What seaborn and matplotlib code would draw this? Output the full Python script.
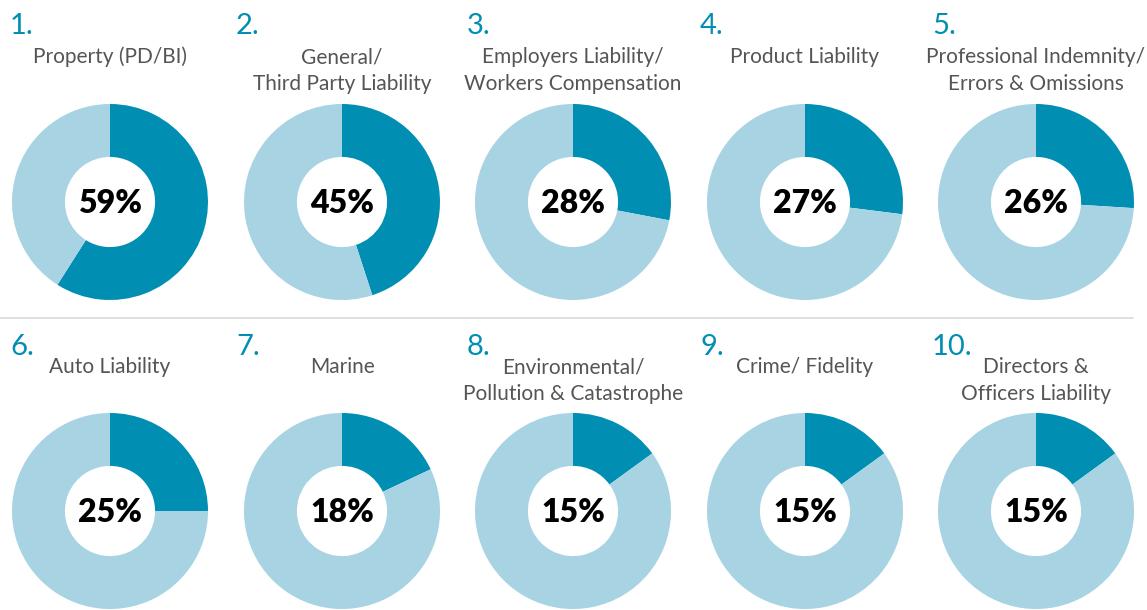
import matplotlib
matplotlib.use("Agg")
import matplotlib.pyplot as plt
import seaborn as sns

sns.set_theme(style="white")
plt.rcParams['font.family'] = ['Lato', 'DejaVu Sans']

ranks = ["1.", "2.", "3.", "4.", "5.", "6.", "7.", "8.", "9.", "10."]
titles = ["Property (PD/BI)", "General/\nThird Party Liability",
          "Employers Liability/\nWorkers Compensation", "Product Liability",
          "Professional Indemnity/\nErrors & Omissions", "Auto Liability", "Marine",
          "Environmental/\nPollution & Catastrophe", "Crime/ Fidelity",
          "Directors &\nOfficers Liability"]
values = [59, 45, 28, 27, 26, 25, 18, 15, 15, 15]

dark = "#008FB3"
light = "#A7D3E3"
palette = sns.color_palette([dark, light])

W, H = 1147, 610
fig = plt.figure(figsize=(W / 100, H / 100), dpi=100)
fig.patch.set_facecolor("white")

col_cx = [110, 342, 573, 805, 1036]
row_cy = [202, 511]
num_x = [10, 236, 467, 700, 932]
num_y = [26, 347]
title_y = [57, 367]
R = 98

for i, (rk, t, v) in enumerate(zip(ranks, titles, values)):
    r, c = divmod(i, 5)
    cx, cy = col_cx[c], row_cy[r]
    ax = fig.add_axes([(cx - R) / W, (H - cy - R) / H, 2 * R / W, 2 * R / H])
    ax.pie([v, 100 - v], colors=palette, startangle=90, counterclock=False,
           radius=1.0, wedgeprops=dict(width=0.54, edgecolor="none"))
    ax.set_xlim(-1, 1)
    ax.set_ylim(-1, 1)
    ax.set_aspect("equal")
    ax.axis("off")
    ax.text(0, -0.02, f"{v}%", ha="center", va="center", fontsize=23,
            fontweight="heavy", color="black")
    fig.text(num_x[c] / W, 1 - num_y[r] / H, rk, ha="left", va="center",
             fontsize=21, color=dark)
    lines = t.split("\n")
    for k, ln in enumerate(lines):
        fig.text(cx / W, 1 - (title_y[r] + 26.5 * k) / H, ln, ha="center",
                 va="center", fontsize=15, color="#555555")

fig.add_artist(plt.Line2D([0, 1133 / W], [1 - 318 / H, 1 - 318 / H],
                          color="#D9D9D9", linewidth=1.2))

fig.savefig("out.png", dpi=100, facecolor="white")
